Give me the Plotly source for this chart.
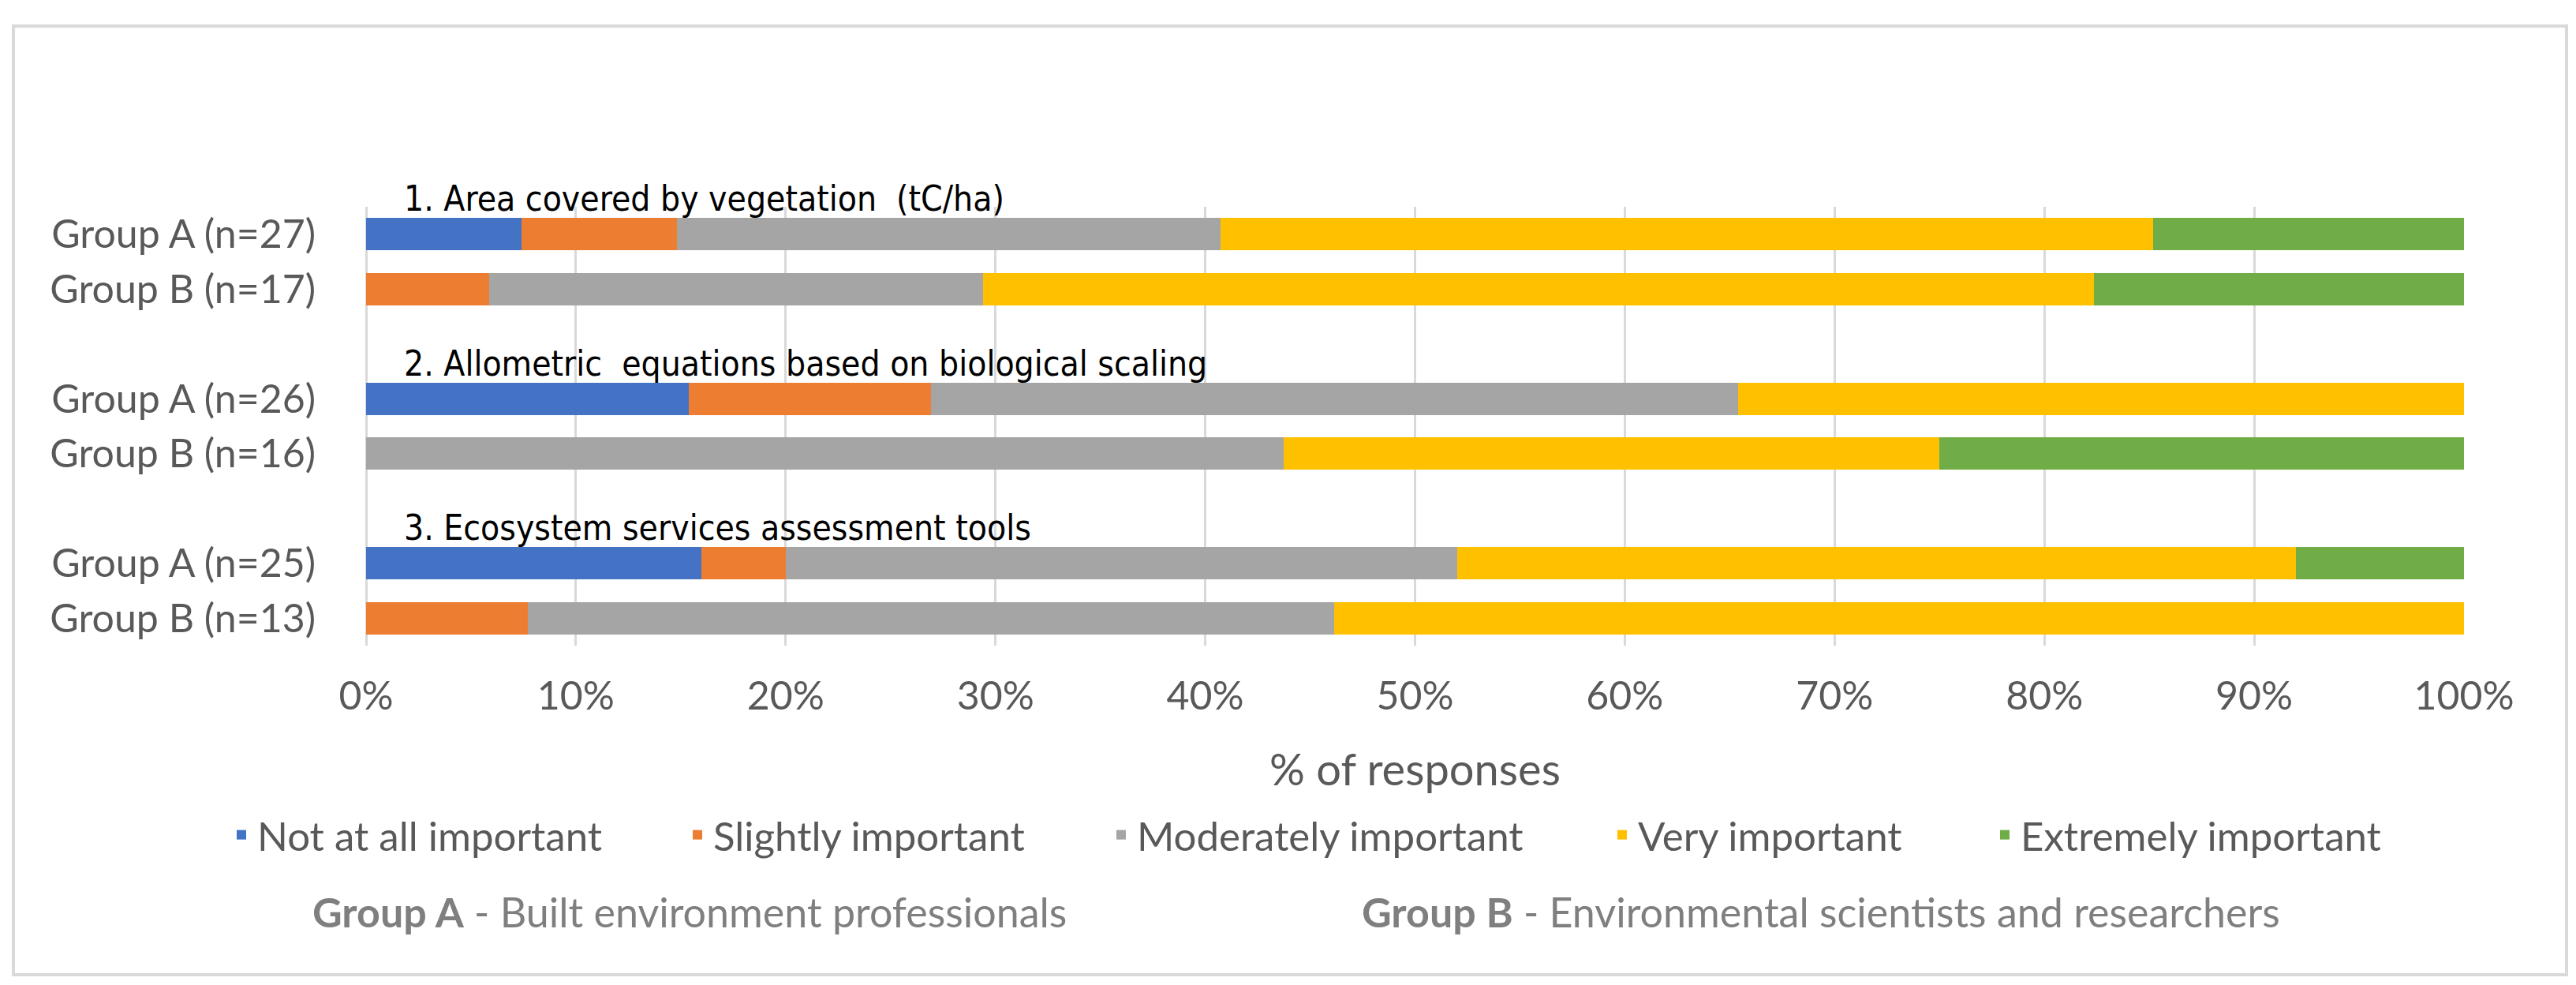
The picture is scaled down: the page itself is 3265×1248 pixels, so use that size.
import plotly.graph_objects as go

# survey data (number of respondents per answer)
questions = ["1. Area covered by vegetation  (tC/ha)",
             "2. Allometric  equations based on biological scaling",
             "3. Ecosystem services assessment tools"]
rows = ["Group A (n=27)", "Group B (n=17)",
        "Group A (n=26)", "Group B (n=16)",
        "Group A (n=25)", "Group B (n=13)"]
n_resp = [27, 17, 26, 16, 25, 13]

levels = ["Not at all important", "Slightly important", "Moderately important",
          "Very important", "Extremely important"]
not_at_all = [2, 0, 4, 0, 4, 0]
slightly = [2, 1, 3, 0, 1, 1]
moderately = [7, 4, 10, 7, 8, 5]
very = [12, 9, 9, 5, 10, 7]
extremely = [4, 3, 0, 4, 2, 0]

colors = ["#4472C4", "#ED7D31", "#A5A5A5", "#FFC000", "#70AD47"]

W, H = 3265, 1248
L, R, T, B = 456, 3115, 254, 810   # plot area in pixels


def px_x(X):
    return (X - L) / (R - L)


def px_y(Y):
    return (B - Y) / (B - T)


# category order with a spacer row between the questions
cats = [rows[0], rows[1], " ", rows[2], rows[3], "  ", rows[4], rows[5]]

fig = go.Figure()
legend_left = [278, 856, 1393, 2028, 2513]
for i, (lvl, cnt) in enumerate(zip(levels, [not_at_all, slightly, moderately, very, extremely])):
    pct = [c / n * 100 for c, n in zip(cnt, n_resp)]
    fig.add_trace(go.Bar(
        x=pct, y=rows, name=lvl, orientation="h",
        marker=dict(color=colors[i], line=dict(width=0)),
        legend="legend" if i == 0 else "legend%d" % (i + 1),
    ))

grey = "#595959"
font_main = "Lato, 'Open Sans', sans-serif"

layout_legends = {}
for i, xl in enumerate(legend_left):
    key = "legend" if i == 0 else "legend%d" % (i + 1)
    layout_legends[key] = dict(
        x=px_x(xl), y=px_y(1050), xanchor="left", yanchor="middle",
        orientation="h", bgcolor="rgba(0,0,0,0)", borderwidth=0,
        font=dict(family=font_main, size=51, color=grey),
    )

fig.update_layout(
    width=W, height=H, autosize=False,
    margin=dict(l=L, r=W - R, t=T, b=H - B, pad=0),
    paper_bgcolor="white", plot_bgcolor="white",
    barmode="stack", bargap=0.41, showlegend=True,
    font=dict(family=font_main, color=grey),
    **layout_legends,
)

fig.update_xaxes(
    range=[0, 100], dtick=10, ticksuffix="%", tickfont=dict(size=50, color=grey),
    showgrid=True, gridcolor="#D9D9D9", gridwidth=2.5,
    zeroline=True, zerolinecolor="#D9D9D9", zerolinewidth=2.5,
    showline=False, ticks="", ticklabelstandoff=30, automargin=False,
    title=dict(text="% of responses", font=dict(size=56, color=grey), standoff=46),
)
fig.update_yaxes(
    type="category", categoryorder="array", categoryarray=cats,
    range=[len(cats) - 0.5, -0.5], showgrid=False, zeroline=False, automargin=False,
    ticks="", ticklabelstandoff=63, tickfont=dict(size=50, color=grey),
)

# question headings above each pair of bars
for q, r in zip(questions, [rows[0], rows[2], rows[4]]):
    fig.add_annotation(
        text=q, xref="paper", x=px_x(502), yref="y", y=r,
        xanchor="left", yanchor="middle", yshift=45, showarrow=False,
        font=dict(family="'Liberation Sans Narrow', 'DejaVu Sans Condensed', Arial", size=44, color="black"),
    )

# group descriptions
fig.add_annotation(text="<b>Group A</b> - Built environment professionals",
                   xref="paper", yref="paper", x=px_x(386), y=px_y(1147),
                   xanchor="left", yanchor="middle", showarrow=False,
                   font=dict(family=font_main, size=52, color="#7F7F7F"))
fig.add_annotation(text="<b>Group B</b> - Environmental scientists and researchers",
                   xref="paper", yref="paper", x=px_x(1716), y=px_y(1147),
                   xanchor="left", yanchor="middle", showarrow=False,
                   font=dict(family=font_main, size=52, color="#7F7F7F"))

# chart frame
fig.add_shape(type="rect", xref="paper", yref="paper",
              x0=px_x(9), x1=px_x(3245), y0=px_y(1227), y1=px_y(25),
              line=dict(color="#D9D9D9", width=4))

fig.write_html("out.html")
